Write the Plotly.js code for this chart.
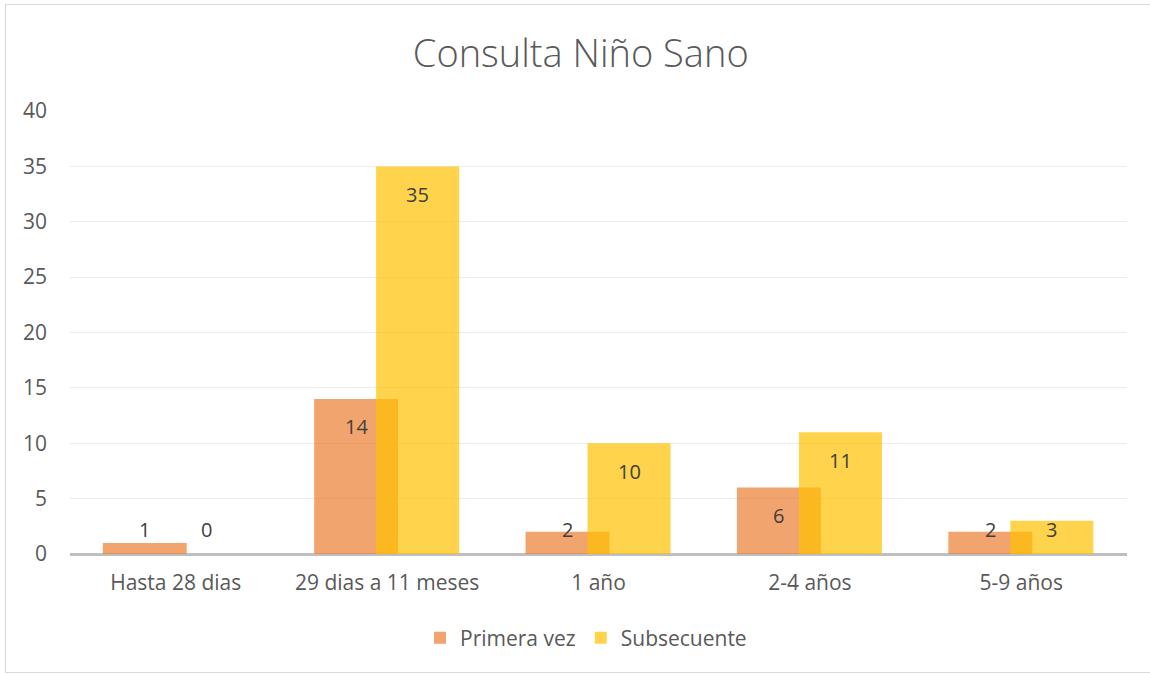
<!DOCTYPE html>
<html>
<head>
<meta charset="utf-8">
<script src="https://cdn.plot.ly/plotly-3.0.1.min.js"></script>
<style>
  html, body { margin: 0; padding: 0; background: #fff; }
  #wrap { position: relative; width: 1150px; height: 674px; overflow: hidden; }
  #chart { position: absolute; left: 0; top: 0; width: 1150px; height: 674px; }
  #frame { position: absolute; left: 5px; top: 4px; width: 1160px; height: 667px;
           border: 1px solid #d9d9d9; pointer-events: none; }
</style>
</head>
<body>
<div id="wrap">
  <div id="chart"></div>
  <div id="frame"></div>
</div>
<script>
const categories = ["Hasta 28 dias", "29 dias a 11 meses", "1 año", "2-4 años", "5-9 años"];
const primeraVez = [1, 14, 2, 6, 2];
const subsecuente = [0, 35, 10, 11, 3];
const seriesNames = ["Primera vez", "Subsecuente"];
const yTicks = [0, 5, 10, 15, 20, 25, 30, 35, 40];

const FONT = "'Open Sans', 'Noto Sans', sans-serif";
const margin = { l: 70, r: 23, t: 111, b: 120 };
const H = 674, W = 1150;
const yMax = 40;
const pxPerUnit = (H - margin.t - margin.b) / yMax;

const orange = { offset: -0.345, width: 0.397, color: "rgba(237,125,49,0.70)" };
const yellow = { offset: -0.052, width: 0.393, color: "rgba(255,192,0,0.70)" };

const xIdx = categories.map((c, i) => i);

const traces = [
  {
    type: "bar", name: seriesNames[0], x: xIdx, y: primeraVez,
    offset: orange.offset, width: orange.width,
    marker: { color: orange.color, line: { width: 0 } },
    hoverinfo: "y"
  },
  {
    type: "bar", name: seriesNames[1], x: xIdx, y: subsecuente,
    offset: yellow.offset, width: yellow.width,
    marker: { color: yellow.color, line: { width: 0 } },
    hoverinfo: "y"
  }
];

function labelY(v) {
  return Math.max(v - 28 / pxPerUnit, 25 / pxPerUnit);
}

const annotations = [];
[[primeraVez, orange], [subsecuente, yellow]].forEach(([vals, geo]) => {
  vals.forEach((v, i) => {
    annotations.push({
      xref: "x", yref: "y",
      x: i + geo.offset + geo.width / 2,
      y: labelY(v),
      text: String(v),
      showarrow: false,
      xanchor: "center", yanchor: "middle",
      font: { family: FONT, size: 20, color: "#404040" }
    });
  });
});

const layout = {
  width: W, height: H,
  margin: margin,
  paper_bgcolor: "#ffffff",
  plot_bgcolor: "#ffffff",
  barmode: "overlay",
  font: { family: FONT, color: "#595959", size: 21 },
  title: {
    text: "Consulta Niño Sano",
    x: 0.505, xref: "container", xanchor: "center",
    y: 1 - 54 / H, yref: "container", yanchor: "middle",
    font: { family: FONT, size: 38, color: "#595959", weight: 300 }
  },
  xaxis: {
    type: "linear",
    range: [-0.5, categories.length - 0.5],
    tickvals: xIdx, ticktext: categories,
    showgrid: false, zeroline: false,
    showline: false,
    ticks: "",
    ticklabelstandoff: 14,
    tickfont: { family: FONT, size: 21, color: "#595959" },
    fixedrange: true
  },
  yaxis: {
    range: [0, yMax],
    tickvals: yTicks,
    showgrid: true, gridcolor: "#ececec", gridwidth: 1,
    zeroline: true, zerolinecolor: "#bfbfbf", zerolinewidth: 3,
    showline: false, ticks: "",
    ticklabelstandoff: 22,
    tickfont: { family: FONT, size: 21, color: "#595959" },
    fixedrange: true
  },
  showlegend: true,
  legend: {
    orientation: "h",
    x: (586 - margin.l) / (W - margin.l - margin.r), xanchor: "center",
    y: -84 / (H - margin.t - margin.b), yanchor: "middle",
    font: { family: FONT, size: 21, color: "#595959" },
    traceorder: "normal",
    itemwidth: 30
  },
  annotations: annotations
};

Plotly.newPlot("chart", traces, layout, { displayModeBar: false, staticPlot: true });
</script>
</body>
</html>
